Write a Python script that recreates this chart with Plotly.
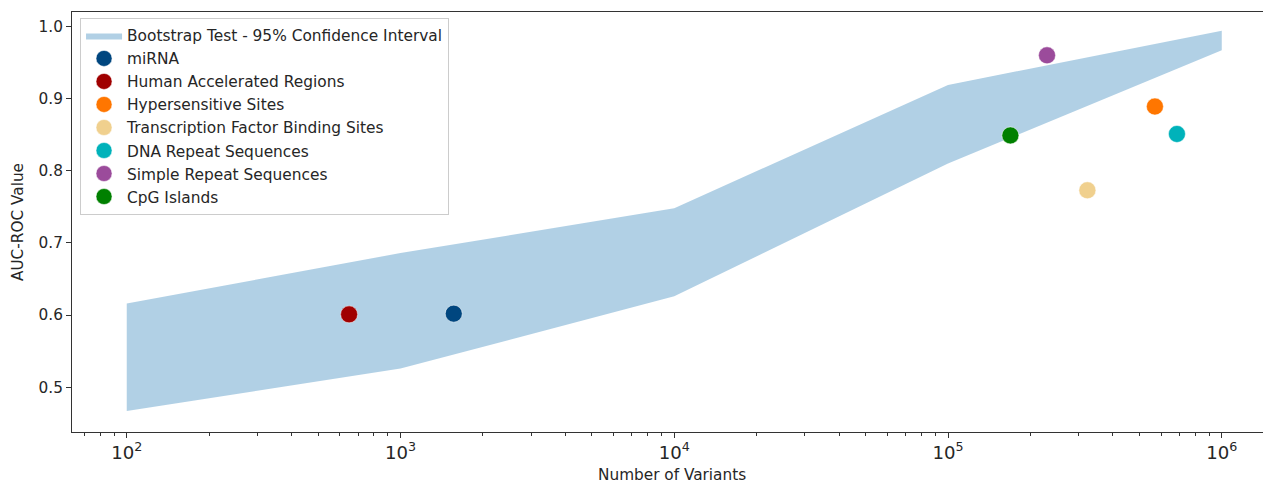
import plotly.graph_objects as go
import numpy as np

# Bootstrap band
band_x = [1e2, 1e3, 1e4, 1e5, 1e6]
band_upper = [0.616, 0.686, 0.748, 0.919, 0.994]
band_lower = [0.467, 0.526, 0.626, 0.810, 0.967]

# Region points
names = ["miRNA", "Human Accelerated Regions", "Hypersensitive Sites",
         "Transcription Factor Binding Sites", "DNA Repeat Sequences",
         "Simple Repeat Sequences", "CpG Islands"]
variants = [1565, 649, 570000, 323000, 686000, 230000, 169000]
auc = [0.602, 0.601, 0.889, 0.773, 0.851, 0.960, 0.849]
colors = ["#00467f", "#a00000", "#ff7600", "#f0d08e", "#00b2ba", "#9b4b9b", "#008000"]

FONT = "DejaVu Sans"
TXT = "#262626"
FS = 15.3
fig = go.Figure()

fig.add_trace(go.Scatter(
    x=band_x + band_x[::-1], y=band_upper + band_lower[::-1],
    fill="toself", fillcolor="rgba(31,119,180,0.35)", line=dict(width=0),
    mode="lines", name="Bootstrap Test - 95% Confidence Interval",
    legendgroup="g0", hoverinfo="skip"))

for i, (n, vx, vy, c) in enumerate(zip(names, variants, auc, colors)):
    fig.add_trace(go.Scatter(
        x=[vx], y=[vy], mode="markers", name=n, legendgroup=f"g{i+1}",
        marker=dict(size=17, color=c, line=dict(width=0.5, color="white"))))

# minor ticks via overlay axis
minor_vals = [m * 10 ** e for e in range(1, 7) for m in range(2, 10)]
minor_vals = [v for v in minor_vals if 10 ** 1.8 <= v <= 10 ** 6.18]
fig.add_trace(go.Scatter(x=[1e3], y=[0.6], xaxis="x2", mode="markers",
                         marker=dict(opacity=0), showlegend=False, hoverinfo="skip"))

xr = [1.8, 1.8 + (1271 - 72) / 273.75]
fig.update_layout(
    width=1263, height=475,
    margin=dict(l=64, r=0, t=4, b=51, autoexpand=False),
    paper_bgcolor="white", plot_bgcolor="white",
    font=dict(family=FONT, size=FS, color=TXT),
    showlegend=True,
    legend=dict(x=0.0067, y=0.986, xanchor="left", yanchor="top",
                bgcolor="rgba(255,255,255,0.8)", bordercolor="#cccccc", borderwidth=1,
                font=dict(family=FONT, size=15.4, color=TXT),
                tracegroupgap=0, itemwidth=36),
    xaxis=dict(type="log", range=xr, dtick=1, exponentformat="power",
               showgrid=False, zeroline=False, showline=True, linecolor="#333333",
               linewidth=1, mirror=True, ticks="outside", ticklen=5, tickcolor="#333333",
               tickfont=dict(family=FONT, size=14.5, color=TXT), automargin=False),
    xaxis2=dict(type="log", range=xr, overlaying="x", side="bottom", anchor="y",
                tickvals=minor_vals, ticktext=["" for _ in minor_vals],
                ticks="outside", ticklen=3, tickcolor="#333333", showgrid=False,
                showline=False, zeroline=False, automargin=False),
    yaxis=dict(range=[0.438, 1.02], dtick=0.1, tickformat=".1f",
               showgrid=False, zeroline=False, showline=True, linecolor="#333333",
               linewidth=1, ticks="outside", ticklen=5, tickcolor="#333333",
               tickfont=dict(family=FONT, size=FS, color=TXT), automargin=False),
    annotations=[
        dict(text="Number of Variants", xref="paper", yref="paper", x=0.5, y=-0.102,
             xanchor="center", yanchor="middle", showarrow=False,
             font=dict(family=FONT, size=FS, color=TXT)),
        dict(text="AUC-ROC Value", xref="paper", yref="paper", x=-0.045, y=0.5,
             xanchor="center", yanchor="middle", showarrow=False, textangle=-90,
             font=dict(family=FONT, size=FS, color=TXT)),
    ],
)

fig.write_html("out.html")
